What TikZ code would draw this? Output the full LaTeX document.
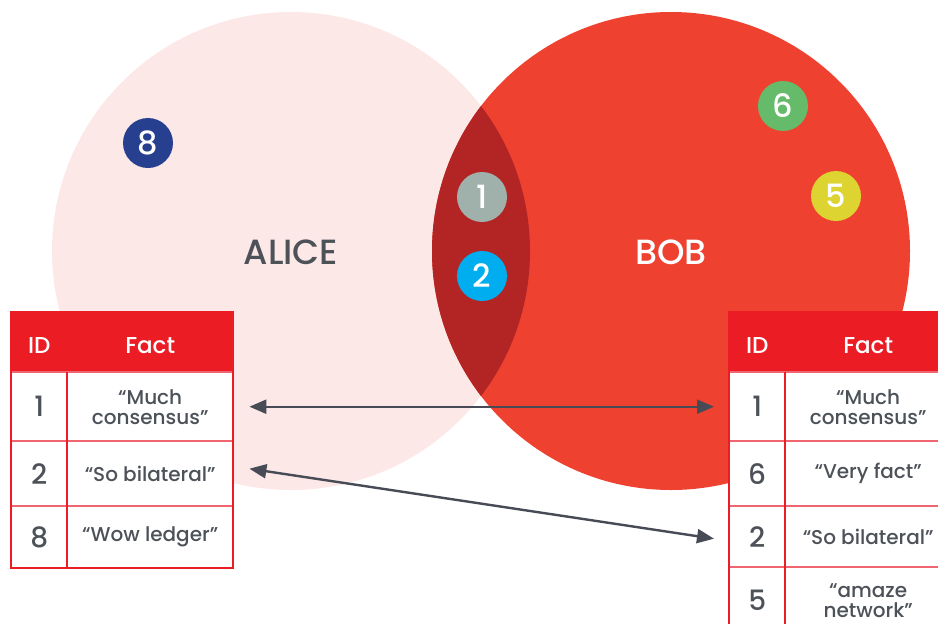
\documentclass[tikz,border=0pt]{standalone}
\usepackage{fontspec}
\setmainfont{Poppins}
\newfontfamily\medfont{Poppins Medium}
\usetikzlibrary{arrows.meta}
\definecolor{alicepink}{HTML}{FDE8E8}
\definecolor{bobred}{HTML}{EE4130}
\definecolor{lensred}{HTML}{B22524}
\definecolor{tablered}{HTML}{EC1C24}
\definecolor{rowline}{HTML}{F06670}
\definecolor{textgray}{HTML}{4D5259}
\definecolor{arrowgray}{HTML}{474B55}
\definecolor{bnavy}{HTML}{263F8F}
\definecolor{bgray}{HTML}{A0B0AA}
\definecolor{bcyan}{HTML}{00AEEF}
\definecolor{bgreen}{HTML}{66BB6A}
\definecolor{byellow}{HTML}{DDD431}
\tikzset{
  badge/.style={circle, fill=#1, minimum size=50pt, inner sep=0pt, text=white, font=\medfont\fontsize{32}{32}\selectfont},
  hdr/.style={fill=tablered, text=white, anchor=north west, inner sep=0pt, minimum height=60pt, text height=22pt, text depth=0pt, font=\medfont\fontsize{23}{23}\selectfont},
  idcell/.style={fill=white, text=textgray, anchor=north west, inner sep=0pt, minimum width=56pt, font=\medfont\fontsize{28}{28}\selectfont},
  factcell/.style={fill=white, text=textgray, anchor=north west, inner sep=0pt, minimum width=166pt, align=center, font=\medfont\fontsize{20}{20}\selectfont},
  conn/.style={draw=arrowgray, line width=2.4pt, {Triangle[length=17pt,width=14pt]}-{Triangle[length=17pt,width=14pt]}},
  grid/.style={draw=tablered, line width=2pt},
  rowsep/.style={draw=rowline, line width=1.6pt}
}
\begin{document}
\begin{tikzpicture}[x=1pt,y=-1pt]
\useasboundingbox (0,0) rectangle (938,624);
\clip (0,0) rectangle (938,624);
% circles
\fill[alicepink] (291,251) circle (239pt);
\fill[bobred] (671,251) circle (239pt);
\begin{scope}
  \clip (291,251) circle (239pt);
  \fill[lensred] (671,251) circle (239pt);
\end{scope}
\node[text=textgray, font=\medfont\fontsize{35}{35}\selectfont] (alice) at (291,252) {ALICE};
\node[text=white, font=\medfont\fontsize{35}{35}\selectfont] (bob) at (671,252) {BOB};
% badges
\node[badge=bnavy] (b8) at (148,143) {8};
\node[badge=bgray] (b1) at (482,197) {1};
\node[badge=bcyan] (b2) at (482,276) {2};
\node[badge=bgreen] (b6) at (783,106) {6};
\node[badge=byellow] (b5) at (836,196) {5};
% left table
\node[hdr, minimum width=56pt] (lh1) at (11,312) {ID};
\node[hdr, minimum width=166pt] (lh2) at (67,312) {Fact};
\node[idcell, minimum height=69pt] (li1) at (11,372) {1};
\node[factcell, minimum height=69pt] (lf1) at (67,372) {“Much\\consensus”};
\node[idcell, minimum height=65pt] (li2) at (11,441) {2};
\node[factcell, minimum height=65pt] (lf2) at (67,441) {“So bilateral”};
\node[idcell, minimum height=62pt] (li3) at (11,506) {8};
\node[factcell, minimum height=62pt] (lf3) at (67,506) {“Wow ledger”};
\draw[rowsep] (li1.north west) -- (lf1.north east);
\draw[rowsep] (li2.north west) -- (lf2.north east);
\draw[rowsep] (li3.north west) -- (lf3.north east);
\draw[grid] (li1.north east) -- (li3.south east);
\draw[grid] (lh1.north west) rectangle (lf3.south east);
% right table
\node[hdr, minimum width=56pt] (rh1) at (729,312) {ID};
\node[hdr, minimum width=166pt] (rh2) at (785,312) {Fact};
\node[idcell, minimum height=69pt] (ri1) at (729,372) {1};
\node[factcell, minimum height=69pt] (rf1) at (785,372) {“Much\\consensus”};
\node[idcell, minimum height=65pt] (ri2) at (729,441) {6};
\node[factcell, minimum height=65pt] (rf2) at (785,441) {“Very fact”};
\node[idcell, minimum height=61pt] (ri3) at (729,506) {2};
\node[factcell, minimum height=61pt] (rf3) at (785,506) {“So bilateral”};
\node[idcell, minimum height=66pt] (ri4) at (729,567) {5};
\node[factcell, minimum height=66pt] (rf4) at (785,567) {“amaze\\network”};
\draw[rowsep] (ri1.north west) -- (rf1.north east);
\draw[rowsep] (ri2.north west) -- (rf2.north east);
\draw[rowsep] (ri3.north west) -- (rf3.north east);
\draw[rowsep] (ri4.north west) -- (rf4.north east);
\draw[grid] (ri1.north east) -- (ri4.south east);
\draw[grid] (rh1.north west) rectangle (rf4.south east);
% connectors
\draw[conn] ([xshift=16pt]lf1.east) -- ([xshift=-15pt]ri1.west);
\draw[conn] ([xshift=16pt,yshift=5pt]lf2.east) -- ([xshift=-15pt,yshift=-2pt]ri3.west);
\end{tikzpicture}
\end{document}
